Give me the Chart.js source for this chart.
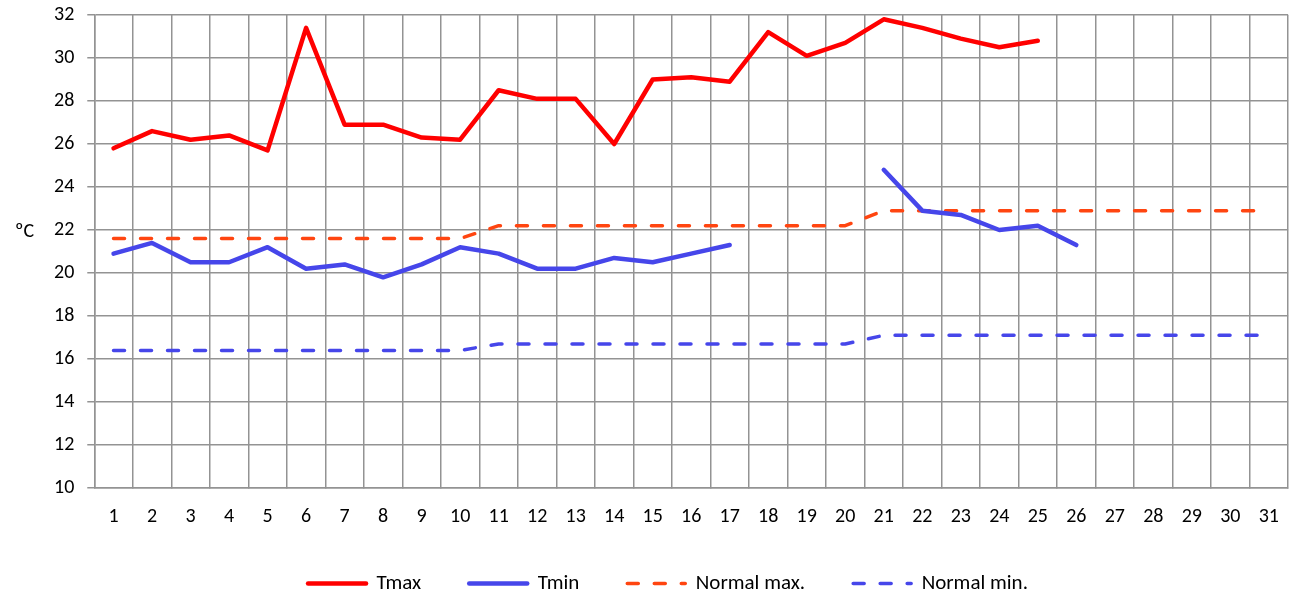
<!DOCTYPE html>
<html>
<head>
<meta charset="utf-8">
<script src="https://cdn.jsdelivr.net/npm/chart.js@4/dist/chart.umd.min.js"></script>
<style>
  html, body { margin: 0; padding: 0; background: #fff; }
  #wrap { width: 1291px; height: 595px; }
</style>
</head>
<body>
<div id="wrap"><canvas id="tempChart" width="1291" height="595"></canvas></div>
<script>
/* daily temperatures vs normals */

const days = Array.from({ length: 31 }, (_, i) => String(i + 1));

const tmax = [25.8, 26.6, 26.2, 26.4, 25.7, 31.4, 26.9, 26.9, 26.3, 26.2,
  28.5, 28.1, 28.1, 26.0, 29.0, 29.1, 28.9, 31.2, 30.1, 30.7,
  31.8, 31.4, 30.9, 30.5, 30.8, null, null, null, null, null, null];

const tmin = [20.9, 21.4, 20.5, 20.5, 21.2, 20.2, 20.4, 19.8, 20.4, 21.2,
  20.9, 20.2, 20.2, 20.7, 20.5, 20.9, 21.3, null, null, null,
  24.8, 22.9, 22.7, 22.0, 22.2, 21.3, null, null, null, null, null];

const normalMax = [21.6, 21.6, 21.6, 21.6, 21.6, 21.6, 21.6, 21.6, 21.6, 21.6,
  22.2, 22.2, 22.2, 22.2, 22.2, 22.2, 22.2, 22.2, 22.2, 22.2,
  22.9, 22.9, 22.9, 22.9, 22.9, 22.9, 22.9, 22.9, 22.9, 22.9, 22.9];

const normalMin = [16.4, 16.4, 16.4, 16.4, 16.4, 16.4, 16.4, 16.4, 16.4, 16.4,
  16.7, 16.7, 16.7, 16.7, 16.7, 16.7, 16.7, 16.7, 16.7, 16.7,
  17.1, 17.1, 17.1, 17.1, 17.1, 17.1, 17.1, 17.1, 17.1, 17.1, 17.1];

const FONT = 'Carlito, Lato, "Open Sans", sans-serif';
const RED = '#ff0000';
const BLUE = '#4646ea';
const ORANGE = '#ff4510';
const GRID = '#939393';

// horizontal unit label left of the y axis
const unitLabel = {
  id: 'unitLabel',
  afterDraw(chart) {
    const ctx = chart.ctx;
    const y = chart.scales.y.getPixelForValue(22);
    ctx.save();
    ctx.font = '20px ' + FONT;
    ctx.fillStyle = '#000';
    ctx.textAlign = 'left';
    ctx.textBaseline = 'middle';
    ctx.fillText('ºC', 15, y + 2);
    ctx.restore();
  }
};

// legend sits lower and takes less room than chart.js would give it
const legendPlace = {
  id: 'legendPlace',
  beforeLayout(chart) {
    const legend = chart.legend;
    if (!legend || legend._patched) return;
    const fit = legend.fit;
    legend.fit = function () { fit.call(this); this.height = 49; };
    legend._patched = true;
  },
  afterLayout(chart) {
    const legend = chart.legend;
    legend.top = 525;
    legend.bottom = 595;
    legend.left += 2;
    legend.right += 2;
  }
};

function line(label, data, color, width, dash) {
  return {
    label,
    data,
    borderColor: color,
    backgroundColor: color,
    borderWidth: width,
    borderDash: dash || [],
    borderCapStyle: 'round',
    borderJoinStyle: 'round',
    pointRadius: 0,
    pointHoverRadius: 0,
    pointStyle: 'line',
    tension: 0,
    spanGaps: false,
  };
}

new Chart(document.getElementById('tempChart'), {
  type: 'line',
  data: {
    labels: days,
    datasets: [
      line('Tmax', tmax, RED, 4.5),
      line('Tmin', tmin, BLUE, 4.5),
      line('Normal max.', normalMax, ORANGE, 3.5, [11, 16]),
      line('Normal min.', normalMin, BLUE, 3.5, [11, 16]),
    ]
  },
  options: {
    responsive: false,
    animation: false,
    layout: { autoPadding: false, padding: { left: 41, right: 0, top: 15, bottom: 0 } },
    scales: {
      x: {
        offset: true,
        grid: { offset: true, color: GRID, lineWidth: 1.5, tickLength: 0 },
        border: { color: GRID, width: 1.5 },
        ticks: { color: '#000', font: { family: FONT, size: 20, lineHeight: 1.7 }, padding: 12, maxRotation: 0, autoSkip: false }
      },
      y: {
        min: 10,
        max: 32,
        grid: { color: GRID, lineWidth: 1.5, tickLength: 7 },
        border: { color: GRID, width: 1.5 },
        ticks: { stepSize: 2, color: '#000', font: { family: FONT, size: 20, lineHeight: 0.2 }, padding: 13 }
      }
    },
    plugins: {
      legend: {
        position: 'bottom',
        labels: {
          usePointStyle: true,
          pointStyleWidth: 58,
          boxHeight: 10,
          padding: 48,
          color: '#000',
          font: { family: FONT, size: 21 },
          generateLabels(chart) {
            const items = Chart.defaults.plugins.legend.labels.generateLabels(chart);
            return items.map(it => {
              const ds = chart.data.datasets[it.datasetIndex];
              it.lineDash = ds.borderDash;
              it.lineWidth = ds.borderWidth;
              it.lineCap = 'round';
              it.strokeStyle = ds.borderColor;
              return it;
            });
          }
        }
      },
      tooltip: { enabled: false }
    }
  },
  plugins: [unitLabel, legendPlace]
});
</script>
</body>
</html>
